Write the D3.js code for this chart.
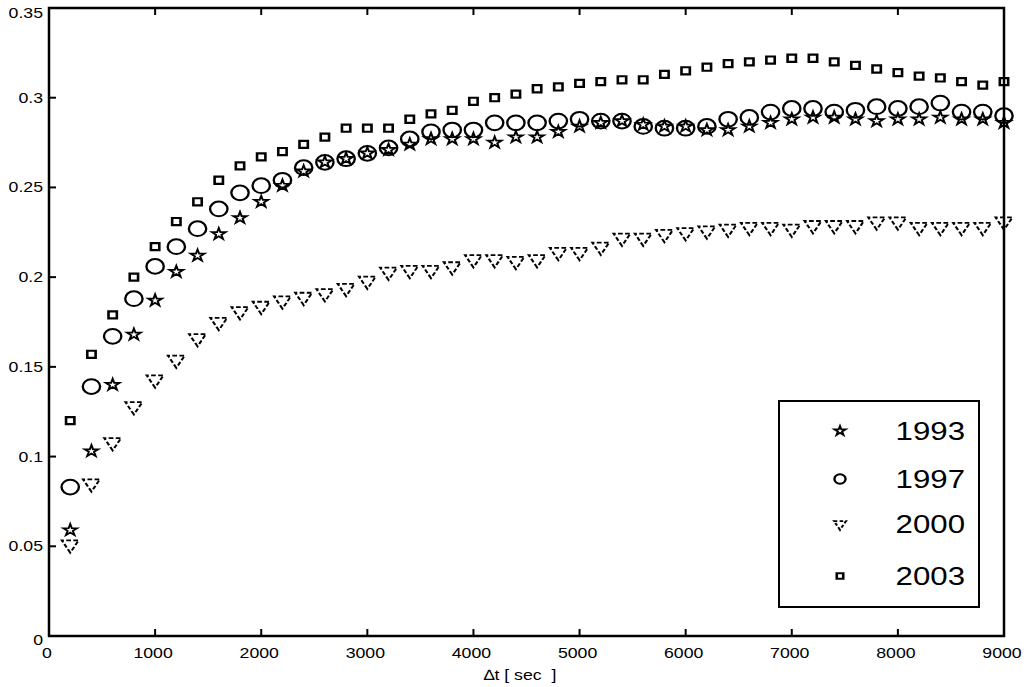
<!DOCTYPE html>
<html>
<head>
<meta charset="utf-8">
<script src="https://cdn.jsdelivr.net/npm/d3@7"></script>
<style>
  body { margin: 0; background: #fff; }
  svg { display: block; font-family: "Liberation Sans", Arial, sans-serif; }
</style>
</head>
<body>
<svg width="1030" height="687"></svg>
<script>
// sample times (sec)
const times = d3.range(200, 9001, 200)

const s1993 = [0.059, 0.103, 0.140, 0.168, 0.187, 0.203, 0.212, 0.224, 0.233, 0.242,
  0.251, 0.259, 0.264, 0.266, 0.269, 0.271, 0.274, 0.277, 0.277, 0.277,
  0.275, 0.278, 0.278, 0.281, 0.284, 0.286, 0.287, 0.285, 0.284, 0.284,
  0.282, 0.282, 0.284, 0.286, 0.288, 0.289, 0.289, 0.288, 0.287, 0.288,
  0.288, 0.289, 0.288, 0.288, 0.286]
const s1997 = [0.083, 0.139, 0.167, 0.188, 0.206, 0.217, 0.227, 0.238, 0.247, 0.251,
  0.254, 0.261, 0.264, 0.266, 0.269, 0.272, 0.277, 0.281, 0.282, 0.282,
  0.286, 0.286, 0.286, 0.287, 0.288, 0.287, 0.287, 0.284, 0.283, 0.283,
  0.284, 0.288, 0.289, 0.292, 0.294, 0.294, 0.292, 0.293, 0.295, 0.294,
  0.295, 0.297, 0.292, 0.292, 0.290]
const s2000 = [0.051, 0.085, 0.108, 0.128, 0.143, 0.154, 0.166, 0.175, 0.181, 0.184,
  0.187, 0.189, 0.191, 0.194, 0.198, 0.203, 0.204, 0.204, 0.206, 0.210,
  0.210, 0.209, 0.210, 0.214, 0.214, 0.217, 0.222, 0.222, 0.224, 0.225,
  0.226, 0.227, 0.228, 0.228, 0.227, 0.229, 0.229, 0.229, 0.231, 0.231,
  0.228, 0.228, 0.228, 0.228, 0.231]
const s2003 = [0.120, 0.157, 0.179, 0.200, 0.217, 0.231, 0.242, 0.254, 0.262, 0.267,
  0.270, 0.274, 0.278, 0.283, 0.283, 0.283, 0.288, 0.291, 0.293, 0.298,
  0.300, 0.302, 0.305, 0.306, 0.308, 0.309, 0.310, 0.310, 0.313, 0.315,
  0.317, 0.319, 0.320, 0.321, 0.322, 0.322, 0.320, 0.318, 0.316, 0.314,
  0.312, 0.311, 0.309, 0.307, 0.309]

const seriesNames = ['1993', '1997', '2000', '2003']
const xTicks = d3.range(0, 9001, 1000)
const yTicks = [0, 0.05, 0.1, 0.15, 0.2, 0.25, 0.3, 0.35]

const series = [
    { name: '1993', values: s1993, type: d3.symbolStar, size: 42, rot: 0, sw: 1.7, lsize: 28 },
    { name: '1997', values: s1997, type: d3.symbolCircle, size: 170, rot: 0, sw: 2, lsize: 70 },
    { name: '2000', values: s2000, type: d3.symbolTriangle, size: 88, rot: 180, sw: 1.8, dash: '4,2', lsize: 45 },
    { name: '2003', values: s2003, type: d3.symbolSquare, size: 50, rot: 0, sw: 2.2, lsize: 30 }
]

const svg = d3.select('svg')
const x = d3.scaleLinear().domain([0, 9000]).range([49, 1004])
const y = d3.scaleLinear().domain([0, 0.35]).range([636, 8])
const stretch = 1.18

// frame
svg.append('rect')
    .attr('x', x(0)).attr('y', y(0.35))
    .attr('width', x(9000) - x(0)).attr('height', y(0) - y(0.35))
    .attr('fill', 'none').attr('stroke', '#000').attr('stroke-width', 2.5)

// ticks, inward, on left, bottom and top
svg.append('g').selectAll('line').data(yTicks.slice(1, -1)).join('line')
    .attr('x1', x(0)).attr('x2', x(0) + 7)
    .attr('y1', d => y(d)).attr('y2', d => y(d))
    .attr('stroke', '#000').attr('stroke-width', 2)
svg.append('g').selectAll('line').data(xTicks.slice(1, -1)).join('line')
    .attr('x1', d => x(d)).attr('x2', d => x(d))
    .attr('y1', y(0)).attr('y2', y(0) - 7)
    .attr('stroke', '#000').attr('stroke-width', 2)
svg.append('g').selectAll('line').data(xTicks.slice(1, -1)).join('line')
    .attr('x1', d => x(d)).attr('x2', d => x(d))
    .attr('y1', y(0.35)).attr('y2', y(0.35) + 7)
    .attr('stroke', '#000').attr('stroke-width', 2)

// tick labels
svg.append('g').selectAll('text').data(yTicks).join('text')
    .attr('transform', d => `translate(43,${y(d) + (d === 0.35 ? 10 : d === 0 ? 9 : 5)}) scale(${stretch},1)`)
    .attr('text-anchor', 'end')
    .attr('font-size', 15)
    .text(d => d3.format('~g')(d))
svg.append('g').selectAll('text').data(xTicks).join('text')
    .attr('transform', d => `translate(${x(d) - 2},${y(0) + 22}) scale(${stretch},1)`)
    .attr('text-anchor', 'middle')
    .attr('font-size', 15)
    .text(d => d)

svg.append('text')
    .attr('transform', `translate(520,680) scale(${stretch},1)`)
    .attr('text-anchor', 'middle')
    .attr('font-size', 15)
    .attr('xml:space', 'preserve')
    .text('\u2206t [ sec  ]')

// markers
const marks = svg.append('g')
series.forEach(s => {
    marks.append('g').selectAll('path').data(s.values).join('path')
        .attr('d', d3.symbol().type(s.type).size(s.size))
        .attr('transform', (d, i) => `translate(${x(times[i])},${y(d)}) scale(${stretch},1) rotate(${s.rot})`)
        .attr('fill', 'none')
        .attr('stroke', '#000')
        .attr('stroke-width', s.sw)
        .attr('stroke-dasharray', s.dash || null)
})

// legend
const legend = svg.append('g')
legend.append('rect')
    .attr('x', 779).attr('y', 401).attr('width', 200).attr('height', 206)
    .attr('fill', '#fff').attr('stroke', '#000').attr('stroke-width', 2)
const legendY = [431, 479, 524, 576]
series.forEach((s, i) => {
    legend.append('path')
        .attr('d', d3.symbol().type(s.type).size(s.lsize))
        .attr('transform', `translate(840,${legendY[i]}) scale(${stretch},1) rotate(${s.rot})`)
        .attr('fill', 'none').attr('stroke', '#000')
        .attr('stroke-width', s.sw)
        .attr('stroke-dasharray', s.dash ? '3,2' : null)
    legend.append('text')
        .attr('transform', `translate(965,${legendY[i] + 9}) scale(1.2,1)`)
        .attr('text-anchor', 'end')
        .attr('font-size', 26)
        .text(seriesNames[i])
})
</script>
</body>
</html>
